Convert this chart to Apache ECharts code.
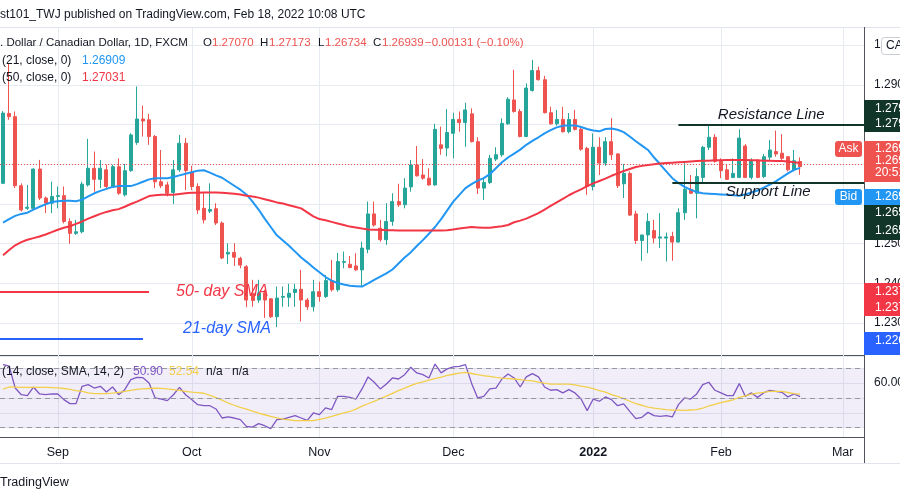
<!DOCTYPE html>
<html>
<head>
<meta charset="utf-8">
<script src="https://cdn.jsdelivr.net/npm/echarts@6/dist/echarts.min.js"></script>
<style>
html, body { margin: 0; padding: 0; background: #fff; }
#main { width: 900px; height: 500px; }
</style>
</head>
<body>
<div id="main"></div>
<script>
// USD/CAD daily, FXCM
var firstDay = '2021-08-19';
var slotCount = 142; // trading days on screen incl. empty ones up to early March

var openP = [1.2652,1.2828,1.2820,1.2646,1.2589,1.2589,1.2688,1.2615,1.2602,1.2619,
  1.2621,1.2556,1.2526,1.2530,1.2648,1.2690,1.2662,1.2686,1.2644,1.2694,
  1.2623,1.2684,1.2755,1.2814,1.2812,1.2770,1.2656,1.2648,1.2629,1.2686,
  1.2753,1.2681,1.2644,1.2589,1.2582,1.2588,1.2552,1.2474,1.2478,1.2463,
  1.2442,1.2375,1.2358,1.2376,1.2361,1.2316,1.2365,1.2365,1.2377,1.2385,
  1.2358,1.2341,1.2379,1.2367,1.2407,1.2384,1.2453,1.2448,1.2444,1.2434,
  1.2486,1.2575,1.2539,1.2510,1.2556,1.2606,1.2598,1.2643,1.2698,1.2673,
  1.2665,1.2648,1.2749,1.2741,1.2778,1.2813,1.2805,1.2827,1.2757,1.2640,
  1.2654,1.2713,1.2724,1.2802,1.2862,1.2833,1.2770,1.2886,1.2936,1.2913,
  1.2830,1.2802,1.2813,1.2782,1.2813,1.2788,1.2740,1.2644,1.2743,1.2703,
  1.2757,1.2726,1.2651,1.2677,1.2575,1.2508,1.2522,1.2533,1.2514,1.2514,
  1.2518,1.2504,1.2578,1.2637,1.2627,1.2667,1.2743,1.2768,1.2707,1.2686,
  1.2667,1.2667,1.2746,1.2667,1.2709,1.2669,1.2718,1.2732,1.2728,1.2719,
  1.2686,1.27070];
var highP = [1.2834,1.2955,1.2833,1.2652,1.2648,1.2690,1.2711,1.2619,1.2656,1.2644,
  1.2644,1.2564,1.2560,1.2656,1.2764,1.2732,1.2711,1.2699,1.2699,1.2715,
  1.2701,1.2778,1.2896,1.2848,1.2827,1.2774,1.2736,1.2656,1.2711,1.2774,
  1.2766,1.2696,1.2652,1.2627,1.2652,1.2602,1.2556,1.2501,1.2501,1.2467,
  1.2446,1.2409,1.2409,1.2384,1.2363,1.2392,1.2392,1.2399,1.2399,1.2434,
  1.2363,1.2409,1.2404,1.2421,1.2459,1.2477,1.2480,1.2469,1.2476,1.2505,
  1.2606,1.2606,1.2560,1.2602,1.2627,1.2651,1.2665,1.2711,1.2746,1.2713,
  1.2690,1.2802,1.2795,1.2839,1.2830,1.2833,1.2855,1.2841,1.2768,1.2665,
  1.2724,1.2743,1.2816,1.2869,1.2938,1.2839,1.2904,1.2963,1.2946,1.2923,
  1.2845,1.2837,1.2845,1.2829,1.2837,1.2795,1.2744,1.2778,1.2768,1.2768,
  1.2816,1.2728,1.2701,1.2682,1.2583,1.2522,1.2577,1.2560,1.2577,1.2528,
  1.2530,1.2589,1.2703,1.2673,1.2690,1.2746,1.2797,1.2776,1.2715,1.2701,
  1.2715,1.2788,1.2751,1.2715,1.2713,1.2726,1.2761,1.2785,1.2776,1.2721,
  1.2736,1.27173];
var lowP = [1.2650,1.2812,1.2640,1.2581,1.2585,1.2587,1.2610,1.2577,1.2577,1.2589,
  1.2551,1.2500,1.2522,1.2526,1.2644,1.2631,1.2640,1.2640,1.2640,1.2623,
  1.2619,1.2681,1.2749,1.2770,1.2749,1.2640,1.2640,1.2619,1.2600,1.2681,
  1.2635,1.2635,1.2575,1.2551,1.2577,1.2547,1.2461,1.2449,1.2444,1.2438,
  1.2340,1.2341,1.2351,1.2313,1.2313,1.2290,1.2341,1.2341,1.2341,1.2304,
  1.2333,1.2329,1.2354,1.2363,1.2379,1.2379,1.2438,1.2438,1.2432,1.2392,
  1.2476,1.2543,1.2505,1.2497,1.2545,1.2593,1.2589,1.2631,1.2669,1.2661,
  1.2646,1.2646,1.2724,1.2720,1.2715,1.2782,1.2744,1.2755,1.2625,1.2610,
  1.2650,1.2708,1.2719,1.2799,1.2830,1.2768,1.2768,1.2883,1.2911,1.2828,
  1.2800,1.2797,1.2780,1.2778,1.2785,1.2734,1.2623,1.2634,1.2673,1.2696,
  1.2711,1.2640,1.2615,1.2570,1.2499,1.2457,1.2476,1.2501,1.2489,1.2455,
  1.2457,1.2503,1.2560,1.2625,1.2564,1.2654,1.2736,1.2704,1.2665,1.2661,
  1.2665,1.2665,1.2665,1.2662,1.2665,1.2665,1.2711,1.2719,1.2711,1.2682,
  1.2682,1.26734];
var closeP = [1.2829,1.2820,1.2646,1.2585,1.2592,1.2688,1.2615,1.2602,1.2619,1.2621,
  1.2556,1.2526,1.2530,1.2650,1.2690,1.2662,1.2690,1.2644,1.2694,1.2627,
  1.2684,1.2774,1.2814,1.2809,1.2770,1.2656,1.2646,1.2627,1.2686,1.2753,
  1.2684,1.2644,1.2585,1.2560,1.2586,1.2552,1.2464,1.2478,1.2466,1.2446,
  1.2358,1.2357,1.2376,1.2358,1.2316,1.2363,1.2367,1.2375,1.2385,1.2358,
  1.2341,1.2379,1.2367,1.2407,1.2384,1.2455,1.2455,1.2440,1.2434,1.2489,
  1.2575,1.2547,1.2510,1.2556,1.2606,1.2598,1.2640,1.2698,1.2671,1.2665,
  1.2648,1.2788,1.2740,1.2780,1.2813,1.2805,1.2837,1.2757,1.2640,1.2654,
  1.2715,1.2724,1.2803,1.2864,1.2833,1.2770,1.2892,1.2936,1.2913,1.2830,
  1.2802,1.2813,1.2782,1.2813,1.2788,1.2738,1.2644,1.2743,1.2703,1.2757,
  1.2724,1.2646,1.2677,1.2572,1.2508,1.2522,1.2556,1.2514,1.2517,1.2517,
  1.2504,1.2578,1.2637,1.2627,1.2669,1.2743,1.2768,1.2707,1.2684,1.2662,
  1.2677,1.2766,1.2667,1.2707,1.2667,1.2719,1.2736,1.2726,1.2715,1.2686,
  1.2709,1.26939];

var sma21 = [1.2553,1.2562,1.2570,1.2575,1.2578,1.2586,1.2593,1.2599,1.2605,1.2607,
  1.2608,1.2608,1.2607,1.2611,1.2619,1.2627,1.2633,1.2638,1.2643,1.2645,
  1.2645,1.2645,1.2650,1.2656,1.2662,1.2665,1.2665,1.2665,1.2668,1.2672,
  1.2676,1.2680,1.2684,1.2685,1.2679,1.2672,1.2666,1.2656,1.2646,1.2636,
  1.2624,1.2606,1.2586,1.2563,1.2542,1.2521,1.2508,1.2495,1.2480,1.2465,
  1.2453,1.2440,1.2428,1.2416,1.2407,1.2401,1.2397,1.2394,1.2393,1.2392,
  1.2400,1.2409,1.2417,1.2425,1.2435,1.2450,1.2465,1.2478,1.2494,1.2509,
  1.2525,1.2542,1.2562,1.2584,1.2606,1.2623,1.2640,1.2650,1.2659,1.2665,
  1.2675,1.2690,1.2705,1.2717,1.2727,1.2737,1.2749,1.2759,1.2768,1.2778,
  1.2786,1.2793,1.2797,1.2798,1.2798,1.2794,1.2789,1.2785,1.2783,1.2789,
  1.2790,1.2787,1.2781,1.2770,1.2758,1.2747,1.2736,1.2717,1.2700,1.2682,
  1.2665,1.2653,1.2643,1.2636,1.2630,1.2627,1.2626,1.2625,1.2624,1.2623,
  1.2622,1.2621,1.2624,1.2629,1.2634,1.2641,1.2649,1.2657,1.2667,1.2677,
  1.2686,1.26909];
var sma50 = [1.2471,1.2484,1.2496,1.2504,1.2510,1.2514,1.2518,1.2523,1.2529,1.2535,
  1.2540,1.2544,1.2550,1.2556,1.2563,1.2569,1.2575,1.2580,1.2584,1.2587,
  1.2593,1.2600,1.2606,1.2613,1.2620,1.2622,1.2623,1.2623,1.2623,1.2625,
  1.2627,1.2628,1.2628,1.2629,1.2629,1.2629,1.2628,1.2627,1.2626,1.2624,
  1.2621,1.2619,1.2616,1.2612,1.2608,1.2604,1.2601,1.2597,1.2593,1.2589,
  1.2579,1.2569,1.2562,1.2559,1.2555,1.2551,1.2547,1.2543,1.2541,1.2538,
  1.2536,1.2535,1.2535,1.2534,1.2534,1.2533,1.2533,1.2533,1.2533,1.2533,
  1.2533,1.2533,1.2533,1.2534,1.2536,1.2538,1.2540,1.2542,1.2541,1.2540,
  1.2540,1.2542,1.2544,1.2547,1.2554,1.2558,1.2563,1.2570,1.2577,1.2586,
  1.2595,1.2604,1.2613,1.2622,1.2630,1.2637,1.2645,1.2652,1.2658,1.2664,
  1.2671,1.2677,1.2683,1.2688,1.2693,1.2696,1.2698,1.2700,1.2702,1.2703,
  1.2704,1.2705,1.2706,1.2707,1.2708,1.2709,1.2709,1.2710,1.2710,1.2711,
  1.2711,1.2711,1.2711,1.2710,1.2710,1.2709,1.2709,1.2708,1.2708,1.2707,
  1.2705,1.27031];

var rsi = [72.5,71.5,56.7,52.2,51.6,57.4,52.7,52.2,52.7,52.7,
  48.9,46.2,46.2,57.9,59.0,56.7,57.9,54.0,57.4,52.2,
  55.6,62.4,63.9,63.7,60.1,50.0,49.3,48.2,52.2,57.2,
  52.2,48.9,45.5,44.8,44.8,42.6,36.5,37.2,36.5,35.4,
  30.9,30.4,32.7,31.3,29.3,35.4,35.8,37.0,38.1,36.5,
  34.9,39.9,38.8,43.3,42.1,51.1,51.1,50.4,49.3,56.1,
  64.2,60.6,56.1,59.4,63.5,62.8,65.7,70.7,66.9,65.7,
  63.5,72.9,66.9,69.6,70.9,71.3,72.5,60.0,50.0,51.1,
  56.1,56.7,62.8,66.2,63.5,57.4,64.2,66.4,64.2,57.4,
  55.2,55.6,53.4,55.6,53.4,49.3,41.5,49.3,47.8,50.7,
  48.9,44.8,46.0,41.0,36.1,37.0,40.3,38.1,37.6,38.1,
  37.2,45.5,50.0,49.3,52.7,59.0,60.6,55.2,53.4,51.6,
  51.6,59.7,51.1,53.4,50.4,53.4,55.2,54.5,53.8,50.7,
  52.7,50.90];
var rsiMa = [56.0,57.4,57.3,57.2,57.2,57.2,57.1,57.1,57.0,56.8,
  56.4,55.8,55.0,54.4,53.5,52.9,52.9,53.0,53.3,53.8,
  54.4,55.2,55.8,56.1,56.4,56.7,56.5,56.1,55.7,55.1,
  54.5,53.9,53.6,53.2,51.7,50.2,48.5,46.6,45.1,43.6,
  42.5,41.1,39.8,38.7,37.6,36.6,35.8,35.3,34.8,34.7,
  34.7,34.8,35.6,36.4,37.6,38.8,40.0,40.9,42.5,44.5,
  46.1,47.7,49.5,51.2,53.1,55.0,56.6,58.3,59.9,60.9,
  62.0,63.0,64.0,65.2,66.0,66.7,67.2,66.5,65.7,65.0,
  64.5,63.9,63.4,63.1,62.8,62.4,61.9,61.5,60.7,60.0,
  59.4,59.4,59.4,59.4,58.8,58.0,57.3,56.3,55.0,54.0,
  52.3,51.1,49.5,47.8,46.2,45.1,43.9,43.2,42.6,42.1,
  41.9,41.8,41.7,41.9,42.1,43.2,44.6,45.7,46.8,47.8,
  48.8,50.4,51.5,52.6,53.3,53.8,54.4,54.5,54.5,53.7,
  53.0,52.54];

var monthTicks = ['Sep', 'Oct', 'Nov', 'Dec', '2022', 'Feb', 'Mar'];
var rsiLevels = [70, 50, 30];
var lastPrice = 1.26939;
var resistance = 1.2799;
var support = 1.2654;
var sma50Key = 1.2378;
var sma21Key = 1.2260;

var PRICE_MIN = 1.22196, PRICE_MAX = 1.30458;
var RSI_MIN = 23.7, RSI_MAX = 78.3;

var FONT = '"Liberation Sans", Arial, sans-serif';
var UP = '#26a69a', DOWN = '#ef5350', DARK = '#123529', GRIDC = '#e6eaf1';

function buildDays(start, n) {
  var d = new Date(start + 'T00:00:00Z'), out = [];
  while (out.length < n) {
    var w = d.getUTCDay();
    if (w !== 0 && w !== 6) out.push(d.toISOString().slice(0, 10));
    d.setUTCDate(d.getUTCDate() + 1);
  }
  return out;
}
var days = buildDays(firstDay, slotCount);

// first trading day of each month -> tick
var monthIdx = [];
for (var i = 1; i < days.length; i++) {
  if (days[i].slice(0, 7) !== days[i - 1].slice(0, 7)) monthIdx.push(i);
}

var candles = [];
for (var k = 0; k < openP.length; k++) {
  candles.push([openP[k], closeP[k], lowP[k], highP[k]]);
}

function txt(x, y, s, color, size, more) {
  var st = { text: s, fill: color, fontSize: size || 12, fontFamily: FONT, align: 'left', verticalAlign: 'middle' };
  if (more) for (var p in more) st[p] = more[p];
  return { type: 'text', x: x, y: y, z: 100, style: st };
}
function box(x, y, w, h, fill, r) {
  return { type: 'rect', z: 99, shape: { x: x, y: y, width: w, height: h, r: r || 0 }, style: { fill: fill } };
}

var graphics = [
  { type: 'line', z: 90, shape: { x1: 0, y1: 27.5, x2: 900, y2: 27.5 }, style: { stroke: '#e0e3eb', lineWidth: 1 } },
  { type: 'line', z: 90, shape: { x1: 0, y1: 463.5, x2: 900, y2: 463.5 }, style: { stroke: '#e0e3eb', lineWidth: 1 } },
  { type: 'line', z: 90, shape: { x1: 864.5, y1: 27, x2: 864.5, y2: 463 }, style: { stroke: '#50535e', lineWidth: 1 } },
  txt(0, 15, 'st101_TWJ published on TradingView.com, Feb 18, 2022 10:08 UTC', '#131722', 12),
  txt(0, 43, '. Dollar / Canadian Dollar, 1D, FXCM', '#131722', 11.5),
  txt(203, 43, 'O', '#131722', 11.5), txt(212, 43, '1.27070', DOWN, 11.5),
  txt(260, 43, 'H', '#131722', 11.5), txt(269, 43, '1.27173', DOWN, 11.5),
  txt(318, 43, 'L', '#131722', 11.5), txt(325, 43, '1.26734', DOWN, 11.5),
  txt(373, 43, 'C', '#131722', 11.5), txt(382, 43, '1.26939', DOWN, 11.5),
  txt(425, 43, '\u22120.00131 (\u22120.10%)', DOWN, 11.5),
  txt(2, 61, '(21, close, 0)', '#131722', 12), txt(82, 61, '1.26909', '#2196f3', 12),
  txt(2, 78, '(50, close, 0)', '#131722', 12), txt(82, 78, '1.27031', '#f23645', 12),
  txt(176, 292, '50- day SMA', '#f23645', 16, { fontStyle: 'italic' }),
  txt(183, 329, '21-day SMA', '#2962ff', 16, { fontStyle: 'italic' }),
  txt(2, 372, '(14, close, SMA, 14, 2)', '#131722', 12),
  txt(133, 372, '50.90', '#7e57c2', 12), txt(169, 372, '52.54', '#f2cf4a', 12),
  txt(206, 372, 'n/a', '#131722', 12), txt(232, 372, 'n/a', '#131722', 12),
  txt(0, 483, 'TradingView', '#131722', 12.5),
  // price scale tags
  { type: 'rect', z: 99, shape: { x: 881.5, y: 37.5, width: 30, height: 17, r: 3 }, style: { fill: '#fff', stroke: '#c9ccd3' } },
  txt(886, 46, 'CAD', '#131722', 12),
  box(864, 100, 36, 32, DARK), txt(875, 108.5, '1.27990', '#fff'), txt(875, 124, '1.27990', '#fff'),
  box(835, 141, 27, 16, DOWN, 3), txt(848.5, 149, 'Ask', '#fff', 12, { align: 'center' }),
  box(864, 141, 36, 41, DOWN), txt(875, 149, '1.26954', '#fff'), txt(875, 161, '1.26939', '#fff'), txt(875, 173, '20:51', '#fff'),
  box(835, 189, 27, 16, '#2196f3', 3), txt(848.5, 197, 'Bid', '#fff', 12, { align: 'center' }),
  box(864, 189, 36, 16, '#2196f3'), txt(875, 197, '1.26924', '#fff'),
  box(864, 205, 36, 35, DARK), txt(875, 213, '1.26540', '#fff'), txt(875, 231, '1.26540', '#fff'),
  box(864, 283, 36, 33, '#f23645'), txt(875, 291.5, '1.23780', '#fff'), txt(875, 308, '1.23780', '#fff'),
  box(864, 332, 36, 23, '#2962ff'), txt(875, 341, '1.22600', '#fff')
];

var option = {
  animation: false,
  backgroundColor: '#fff',
  textStyle: { fontFamily: FONT },
  grid: [
    { left: 0, top: 27, width: 864, height: 328, containLabel: false, outerBoundsMode: 'none' },
    { left: 0, top: 356, width: 864, height: 81, containLabel: false, outerBoundsMode: 'none' }
  ],
  xAxis: [
    { type: 'category', gridIndex: 0, data: days, boundaryGap: true,
      axisLine: { show: true, lineStyle: { color: '#50535e' } },
      axisTick: { show: false }, axisLabel: { show: false }, splitLine: { show: false } },
    { type: 'category', gridIndex: 1, data: days, boundaryGap: true,
      axisLine: { show: true, lineStyle: { color: '#50535e' } },
      axisTick: { show: false }, splitLine: { show: false },
      axisLabel: {
        margin: 9, color: '#131722', fontSize: 12.5,
        interval: function (i) { return monthIdx.indexOf(i) >= 0; },
        formatter: function (v, i) {
          var n = monthIdx.indexOf(i);
          var s = n >= 0 ? monthTicks[n] : '';
          return s === '2022' ? '{b|2022}' : s;
        },
        rich: { b: { fontWeight: 'bold', fontSize: 12.5, color: '#131722' } }
      } }
  ],
  yAxis: [
    { type: 'value', gridIndex: 0, position: 'right', min: PRICE_MIN, max: PRICE_MAX, splitNumber: 8, scale: true,
      axisLine: { show: false }, axisTick: { show: false },
      axisLabel: { margin: 10, color: '#131722', fontSize: 12, showMinLabel: false, showMaxLabel: false,
        formatter: function (v) { return v.toFixed(3); } },
      splitLine: { lineStyle: { color: GRIDC } } },
    { type: 'value', gridIndex: 1, position: 'right', min: RSI_MIN, max: RSI_MAX, splitNumber: 5,
      axisLine: { show: false }, axisTick: { show: false },
      axisLabel: { margin: 10, color: '#131722', fontSize: 12, showMinLabel: false, showMaxLabel: false,
        formatter: function (v) { return Math.abs(v - 60) < 1e-6 ? '60.00' : ''; } },
      splitLine: { lineStyle: { color: GRIDC } } }
  ],
  series: [
    { type: 'candlestick', name: 'USDCAD', xAxisIndex: 0, yAxisIndex: 0, data: candles, z: 3,
      barWidth: 3.5,
      itemStyle: { color: UP, color0: DOWN, borderColor: UP, borderColor0: DOWN, borderWidth: 1 },
      markLine: { silent: true, symbol: ['none', 'none'], label: { show: false },
        lineStyle: { color: DOWN, type: [1, 2], width: 1 }, data: [{ yAxis: lastPrice }] } },
    { type: 'line', name: 'SMA 21', xAxisIndex: 0, yAxisIndex: 0, data: sma21, z: 4,
      symbol: 'none', lineStyle: { color: '#2196f3', width: 2 } },
    { type: 'line', name: 'SMA 50', xAxisIndex: 0, yAxisIndex: 0, data: sma50, z: 4,
      symbol: 'none', lineStyle: { color: '#f23645', width: 2 } },
    // drawings: resistance / support and the two legend strokes
    { type: 'line', xAxisIndex: 0, yAxisIndex: 0, data: sma50, z: 5, silent: true, symbol: 'none',
      lineStyle: { opacity: 0 },
      markLine: { silent: true, symbol: ['none', 'none'], lineStyle: { type: 'solid', width: 2 },
        data: [
          [{ coord: [days[111], resistance], lineStyle: { color: DARK, type: 'solid', width: 2 },
             label: { show: true, position: 'insideMiddleTop', distance: 3, formatter: 'Resistance Line',
               color: '#131722', fontSize: 15, fontStyle: 'italic' } },
           { coord: [days[141], resistance], x: 864 }],
          [{ coord: [days[110], support], lineStyle: { color: DARK, type: 'solid', width: 2 },
             label: { show: true, position: 'insideMiddleBottom', distance: 2, formatter: 'Support Line',
               color: '#131722', fontSize: 15, fontStyle: 'italic' } },
           { coord: [days[141], support], x: 864 }],
          [{ coord: [days[0], sma50Key], x: 0, lineStyle: { color: '#f23645', type: 'solid', width: 2 }, label: { show: false } },
           { coord: [days[24], sma50Key], x: 149 }],
          [{ coord: [days[0], sma21Key], x: 0, lineStyle: { color: '#2962ff', type: 'solid', width: 2 }, label: { show: false } },
           { coord: [days[23], sma21Key], x: 143 }]
        ] } },
    { type: 'line', name: 'RSI', xAxisIndex: 1, yAxisIndex: 1, data: rsi, z: 4,
      symbol: 'none', lineStyle: { color: '#7e57c2', width: 1.3 },
      markArea: { silent: true, itemStyle: { color: 'rgba(126,87,194,0.1)' },
        data: [[{ yAxis: rsiLevels[0] }, { yAxis: rsiLevels[2] }]] },
      markLine: { silent: true, symbol: ['none', 'none'], label: { show: false },
        lineStyle: { color: '#9598a1', type: [5, 4], width: 1 },
        data: rsiLevels.map(function (v) { return { yAxis: v }; }) } },
    { type: 'line', name: 'RSI MA', xAxisIndex: 1, yAxisIndex: 1, data: rsiMa, z: 4,
      symbol: 'none', lineStyle: { color: '#f2cf4a', width: 1.3 } }
  ],
  graphic: graphics
};

var chart = echarts.init(document.getElementById('main'));
chart.setOption(option);

// month grid lines at the candle centres, placed through the category axis
var monthGrid = monthIdx.map(function (i) {
  var x = Math.round(chart.convertToPixel({ xAxisIndex: 0 }, i)) + 0.5;
  return { type: 'line', z: 1, silent: true, shape: { x1: x, y1: 28, x2: x, y2: 437 },
    style: { stroke: GRIDC, lineWidth: 1 } };
});
chart.setOption({ graphic: graphics.concat(monthGrid) });
</script>
</body>
</html>
